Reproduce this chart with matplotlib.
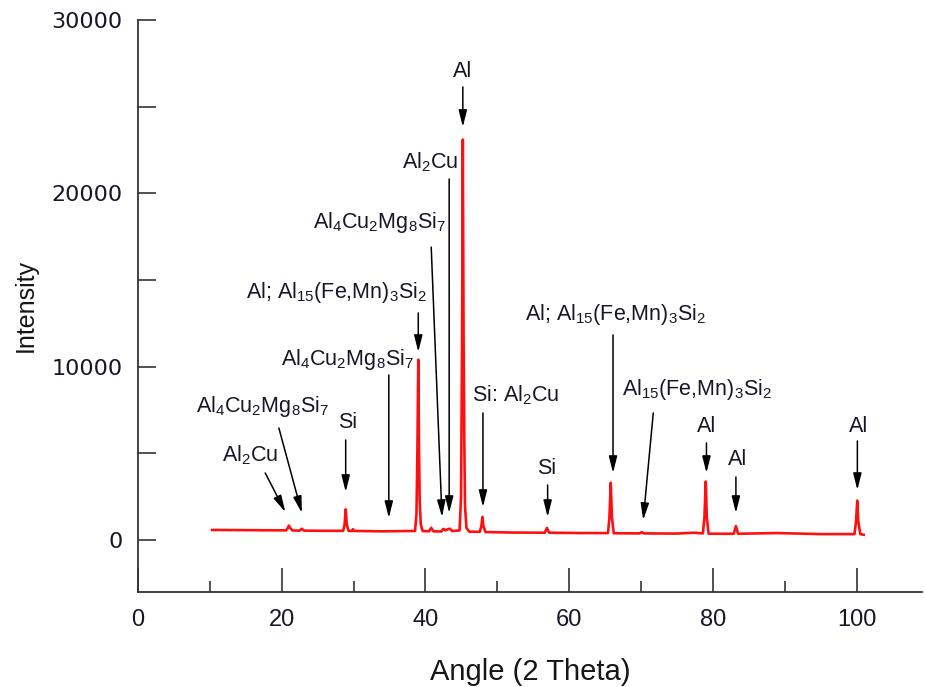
import matplotlib
matplotlib.use("Agg")
import matplotlib.pyplot as plt
from matplotlib.ticker import MultipleLocator

plt.rcParams['font.family'] = ['Liberation Sans', 'DejaVu Sans']
plt.rcParams['mathtext.fontset'] = 'custom'
plt.rcParams['mathtext.rm'] = 'Liberation Sans'
plt.rcParams['mathtext.it'] = 'Liberation Sans'
plt.rcParams['mathtext.bf'] = 'Liberation Sans'

# ---- data ----
two_theta = [10.3, 14.0, 18.0, 20.6, 20.85, 21.0, 21.15, 21.5, 22.5, 22.8, 23.1,
             26.0, 28.55, 28.75, 28.9, 29.05, 29.3, 29.75, 29.9, 30.1, 34.0,
             38.55, 38.75, 38.88, 39.0, 39.1, 39.2, 39.35, 39.6, 40.5, 40.8, 41.1,
             42.2, 42.5, 42.8, 43.1, 43.4, 43.7, 44.75, 44.95, 45.1, 45.2, 45.3,
             45.4, 45.5, 45.7, 46.1, 47.55, 47.78, 47.92, 48.06, 48.35, 52.0,
             56.6, 56.9, 57.2, 62.0, 65.4, 65.6, 65.78, 65.95, 66.2, 69.8, 70.1,
             70.4, 75.0, 77.3, 78.6, 78.82, 79.0, 79.15, 79.4, 82.9, 83.2, 83.5,
             88.9, 95.0, 99.7, 99.92, 100.08, 100.22, 100.5, 101.0]
intensity = [580, 570, 560, 555, 700, 830, 700, 550, 540, 650, 540,
             530, 530, 900, 1770, 900, 530, 520, 620, 520, 500,
             520, 1500, 5200, 10400, 5200, 2200, 900, 520, 500, 700, 500,
             490, 640, 560, 620, 650, 520, 550, 2500, 12000, 23100, 12000,
             6000, 2000, 700, 480, 470, 800, 1330, 800, 460, 430,
             420, 700, 420, 400, 400, 1300, 3300, 1300, 390, 380, 450,
             380, 370, 420, 380, 1300, 3370, 1300, 360, 360, 800, 360,
             400, 340, 340, 1100, 2270, 1100, 340, 300]

# labels: (text, text position, arrow tail, arrow head)
labels = [
    (r'Al$_2$Cu', (15.6, 4905), (17.7, 3866), (20.5, 1616)),
    (r'Al$_4$Cu$_2$Mg$_8$Si$_7$', (17.3, 7674), (19.6, 6462), (22.8, 1558)),
    (r'Si', (29.1, 6750), (28.9, 5770), (28.9, 2770)),
    (r'Al$_4$Cu$_2$Mg$_8$Si$_7$', (29.2, 10386), (34.9, 9520), (34.9, 1270)),
    (r'Al; Al$_{15}$(Fe,Mn)$_3$Si$_2$', (27.6, 14300), (39.0, 13098), (39.0, 10848)),
    (r'Al$_4$Cu$_2$Mg$_8$Si$_7$', (33.6, 18300), (40.8, 16900), (42.3, 1327)),
    (r'Al$_2$Cu', (40.6, 21810), (43.3, 20830), (43.3, 1558)),
    (r'Al', (45.2, 27000), (45.2, 26140), (45.2, 23830)),
    (r'Si: Al$_2$Cu', (52.6, 8366), (48.0, 7330), (48.0, 1904)),
    (r'Si', (56.9, 4150), (57.0, 3174), (57.0, 1327)),
    (r'Al; Al$_{15}$(Fe,Mn)$_3$Si$_2$', (66.5, 12983), (66.1, 11830), (66.1, 3866)),
    (r'Al$_{15}$(Fe,Mn)$_3$Si$_2$', (77.8, 8655), (71.7, 7328), (70.3, 1154)),
    (r'Al', (79.1, 6520), (79.1, 5597), (79.1, 3866)),
    (r'Al', (83.5, 4616), (83.2, 3635), (83.2, 1558)),
    (r'Al', (100.2, 6520), (100.1, 5712), (100.1, 2885)),
]

x_major = [0, 20, 40, 60, 80, 100]
y_major = [0, 10000, 20000, 30000]

fig = plt.figure(figsize=(9.25, 6.87), dpi=100)
ax = fig.add_axes([0.1492, 0.1383, 0.9968 - 0.1492, 0.9709 - 0.1383])

ax.plot(two_theta, intensity, color='#ff1010', lw=1.9)

for text, txy, tail, head in labels:
    ax.annotate('', xy=head, xytext=tail,
                arrowprops=dict(arrowstyle='-|>,head_length=1.0,head_width=0.25',
                                color='black', lw=1.1, shrinkA=0, shrinkB=0))
    ax.text(txy[0], txy[1], text, ha='center', va='center', fontsize=15.5,
            color='#161628')

ax.set_xlim(0, 109.1)
ax.set_ylim(-3000, 30000)
ax.set_xticks(x_major)
ax.xaxis.set_minor_locator(MultipleLocator(10))
ax.set_yticks(y_major)
ax.yaxis.set_minor_locator(MultipleLocator(5000))

for s in ['top', 'right']:
    ax.spines[s].set_visible(False)
for s in ['left', 'bottom']:
    ax.spines[s].set_linewidth(1.3)
    ax.spines[s].set_color('#333333')

ax.tick_params(axis='both', which='both', direction='in', color='#333333', width=1.2)
ax.tick_params(axis='x', which='major', length=17, pad=12, labelsize=17, labelcolor='#161628')
ax.tick_params(axis='x', which='minor', length=8)
ax.tick_params(axis='y', which='both', length=13, pad=11, labelsize=16, labelcolor='#161628')
for lbl in ax.get_yticklabels():
    lbl.set_family('DejaVu Sans')

ax.set_xlabel('Angle (2 Theta)', fontsize=21, labelpad=20, color='#161616')
ax.set_ylabel('Intensity', fontsize=18, labelpad=10, color='#161616')

fig.savefig('out.png', dpi=100)
